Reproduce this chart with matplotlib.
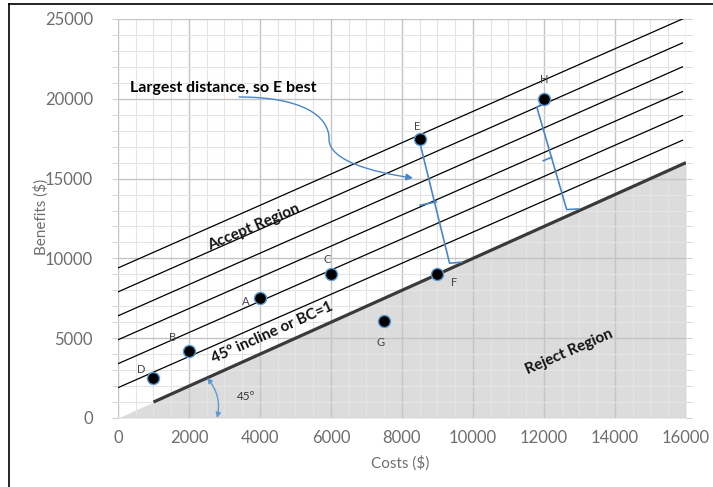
import matplotlib
matplotlib.use('Agg')
import matplotlib.pyplot as plt
from matplotlib.path import Path
from matplotlib.patches import FancyArrowPatch
from matplotlib.lines import Line2D
from matplotlib.ticker import MultipleLocator

plt.rcParams['font.family'] = ['Lato', 'DejaVu Sans']

# ---- data ----
names = ['D', 'B', 'A', 'C', 'G', 'F', 'E', 'H']
costs = [1000, 2000, 4000, 6000, 7500, 9000, 8500, 12000]
benefits = [2500, 4200, 7500, 9000, 6100, 9000, 17500, 20000]

# label offsets in points
label_dx = [-9, -12, -10, -3, -3, 12, -2, 0]
label_dy = [6, 10, -2, 11, -16, -6, 9, 14]

# parallel iso-distance lines: x range and y at ends
par_x = [0, 15900]
par_y0 = [9400, 7900, 6400, 4900, 3400, 1900]
par_y1 = [25000, 23500, 22000, 20450, 18950, 17400]

# BC = 1 line
bc_x = [1000, 16000]
bc_y = [1000, 16000]

# distance brackets (blue)
bE_x = [8650, 8480, 9340, 9680]
bE_y = [17620, 17460, 9700, 9760]
bEn_x = [8960, 8510]
bEn_y = [13540, 13330]
bH_x = [12080, 11800, 12640, 12970]
bH_y = [19930, 19460, 13060, 13100]
bHn_x = [12210, 11980]
bHn_y = [16330, 16120]

xticks = list(range(0, 16001, 2000))
yticks = list(range(0, 25001, 5000))

fig = plt.figure(figsize=(7.13, 4.87), dpi=100)
ax = fig.add_axes([0.1655, 0.1417, 0.7966, 0.8193])
ax.set_xlim(0, 16000)
ax.set_ylim(0, 25000)
ax.xaxis.set_major_locator(MultipleLocator(2000))
ax.xaxis.set_minor_locator(MultipleLocator(500))
ax.yaxis.set_major_locator(MultipleLocator(5000))
ax.yaxis.set_minor_locator(MultipleLocator(1000))
ax.set_xticks(xticks)
ax.set_yticks(yticks)
ax.set_axisbelow(True)
ax.grid(which='major', color='#c4c4c4', lw=1.0)
ax.grid(which='minor', color='#e4e4e4', lw=0.8)
for s in ax.spines.values():
    s.set_visible(False)
ax.tick_params(which='both', length=0, labelsize=12, labelcolor='#6e6e6e')
ax.tick_params(axis='y', pad=14)
ax.tick_params(axis='x', pad=9)
ax.tick_params(axis='y', which='both', right=True, length=4, color='#d0d0d0')

# reject region fill
ax.fill_between([0, 16000], [0, 0], [0, 16000], color='#dcdcdc', zorder=0.2, lw=0)

for y0, y1 in zip(par_y0, par_y1):
    ax.plot(par_x, [y0, y1], color='black', lw=0.9, zorder=2)
ax.plot(bc_x, bc_y, color='#3a3a3a', lw=2.3, zorder=2, solid_capstyle='butt')

blue = '#4a86c8'
ax.plot(bE_x, bE_y, color=blue, lw=1.2, zorder=3)
ax.plot(bEn_x, bEn_y, color=blue, lw=1.2, zorder=3)
ax.plot(bH_x, bH_y, color=blue, lw=1.2, zorder=3)
ax.plot(bHn_x, bHn_y, color=blue, lw=1.2, zorder=3)

ax.scatter(costs, benefits, s=75, color='black', edgecolors='#5b9bd5', linewidths=1.0, zorder=4)
for n, x, y, dx, dy in zip(names, costs, benefits, label_dx, label_dy):
    ax.annotate(n, (x, y), xytext=(dx, dy), textcoords='offset points',
                ha='center', va='center', fontsize=8, color='#444444', zorder=5)

# curved arrow from annotation text
verts = [(3408, 20113), (5127, 20113), (5972, 18985), (5944, 17419),
         (5972, 16165), (7099, 15414), (8310, 15038)]
codes = [Path.MOVETO, Path.CURVE4, Path.CURVE4, Path.CURVE4,
         Path.CURVE4, Path.CURVE4, Path.CURVE4]
arr = FancyArrowPatch(path=Path(verts, codes), arrowstyle='-|>,head_length=4,head_width=2',
                      color=blue, lw=1.0, transform=ax.transData, zorder=3)
ax.add_patch(arr)

ax.text(338, 20700, 'Largest distance, so E best', fontsize=11.5, fontweight='bold',
        ha='left', va='center', color='black')
ax.text(3830, 11950, 'Accept Region', fontsize=11, fontweight='bold', rotation=23,
        ha='center', va='center', rotation_mode='anchor', color='#111111')
ax.text(4350, 5350, '45º incline or BC=1', fontsize=11, fontweight='bold', rotation=24,
        ha='center', va='center', rotation_mode='anchor', color='#111111')
ax.text(12700, 4150, 'Reject Region', fontsize=11, fontweight='bold', rotation=23.5,
        ha='center', va='center', rotation_mode='anchor', color='#111111')
ax.text(3600, 1350, '45º', fontsize=8.5, ha='center', va='center', color='#333333')

# 45 degree arc
ax.annotate('', xy=(2790, 0), xytext=(2507, 2506),
            arrowprops=dict(arrowstyle='<|-|>,head_length=0.3,head_width=0.15', color='#5b9bd5',
                            lw=1.0, connectionstyle='arc3,rad=-0.25', shrinkA=0, shrinkB=0))

fig.text(0.561, 0.049, 'Costs ($)', fontsize=11, color='#6e6e6e', ha='center', va='center')
fig.text(0.058, 0.555, 'Benefits ($)', fontsize=11, color='#6e6e6e', ha='center', va='center',
         rotation=90)

# figure border (left and top)
fig.add_artist(Line2D([0.0126, 0.0126], [0.0, 0.9918], transform=fig.transFigure, color='black', lw=1.2))
fig.add_artist(Line2D([0.0126, 1.0], [0.9918, 0.9918], transform=fig.transFigure, color='black', lw=1.2))

fig.savefig('out.png', dpi=100)
